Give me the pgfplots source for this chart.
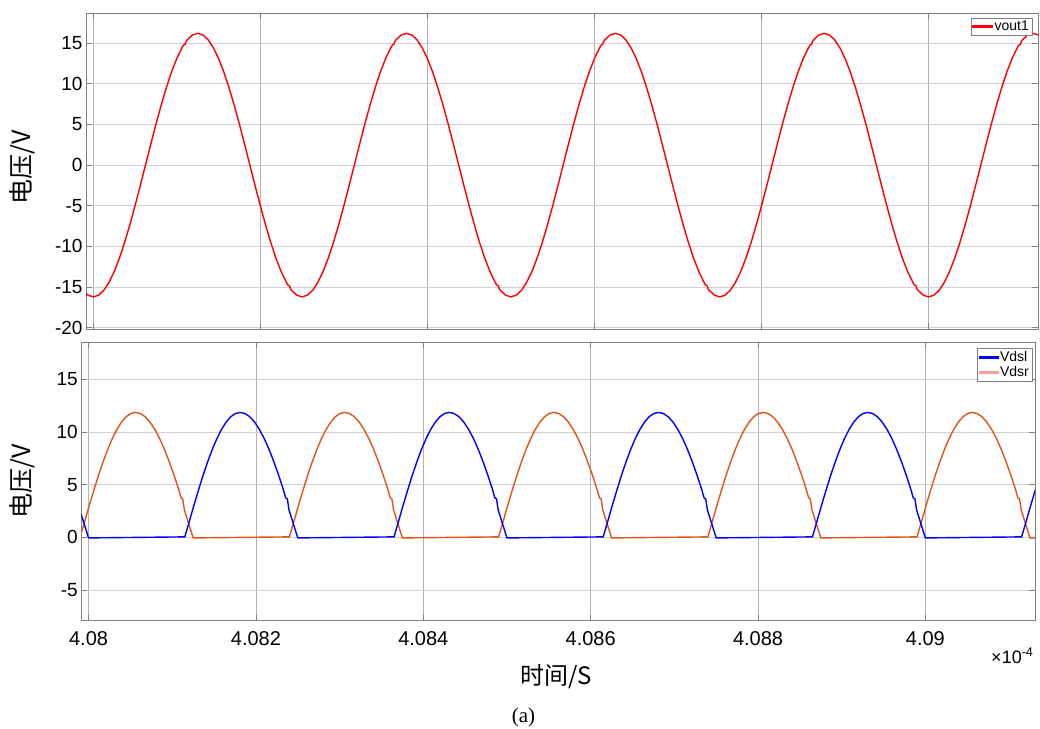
\documentclass[border=0pt]{standalone}
\usepackage{pgfplots}
\pgfplotsset{compat=1.18}
\usepackage{fontspec}
\setmainfont{Liberation Sans}
\newfontfamily\cjk{Noto Sans CJK SC}
\newfontfamily\tnr{Liberation Serif}
\definecolor{axgray}{HTML}{808080}
\definecolor{gridx}{HTML}{B4B4B4}
\definecolor{gridy}{HTML}{D2D2D2}
\definecolor{vred}{HTML}{FF0000}
\definecolor{vblue}{HTML}{0000FF}
\definecolor{vorange}{HTML}{E0541C}
\definecolor{vpink}{HTML}{FF9C9C}

% x is time offset from 4.08e-4 s in units of 1e-7 s (tick 2 -> 4.082)
\pgfplotsset{
  scope axis/.style={
    scale only axis,
    xmin=-0.087, xmax=11.31,
    xtick={0,2,4,6,8,10},
    grid=major,
    major x grid style={gridx, line width=0.6pt},
    major y grid style={gridy, line width=0.6pt},
    axis line style={axgray, line width=0.8pt},
    tick style={axgray, line width=0.8pt},
    major tick length=6pt,
    tick align=inside,
    xtick pos=both, ytick pos=both,
    yticklabel style={font=\fontsize{19}{21}\selectfont},
    xticklabel style={font=\fontsize{20}{22}\selectfont, yshift=-7pt},
    legend cell align=left,
    legend image code/.code={\fill[#1] (0pt,-0.85pt) rectangle (19pt,0.85pt);},
    legend style={font=\fontsize{14}{15}\selectfont, draw=axgray,
      inner sep=1pt, row sep=-1pt,
      at={(rel axis cs:1,1)}, anchor=north east},
  }
}

\begin{document}
\begin{tikzpicture}
\useasboundingbox (0pt,0pt) rectangle (1040pt,-728pt);

\begin{axis}[scope axis,
  at={(86pt,-329pt)}, anchor=south west,
  width=952pt, height=316pt,
  ymin=-20.15, ymax=18.7,
  ytick={-20,-15,-10,-5,0,5,10,15},
  yticklabels={-20,-15,-10,-5,0,5,10,15},
  xticklabels={},
  legend style={xshift=-6pt, yshift=-5pt},
]
\addplot[vred, line width=1.4pt] coordinates {
(-0.1875,-14.43)(-0.17,-14.75)(-0.15,-14.85)(-0.14,-15.2)(-0.125,-15.41)(-0.0625,-16.00)
(0,-16.20)(0.0625,-16.00)(0.125,-15.41)(0.1875,-14.43)(0.25,-13.11)(0.3125,-11.46)(0.375,-9.52)(0.4375,-7.35)(0.5,-5.01)(0.5625,-2.53)(0.625,0)(0.6875,2.53)(0.75,5.01)(0.8125,7.35)(0.875,9.52)(0.9375,11.46)(1,13.11)(1.0625,14.43)(1.08,14.75)(1.1,14.85)(1.11,15.2)(1.125,15.41)(1.1875,16.00)(1.25,16.20)(1.3125,16.00)(1.375,15.41)(1.4375,14.43)(1.5,13.11)(1.5625,11.46)(1.625,9.52)(1.6875,7.35)(1.75,5.01)(1.8125,2.53)(1.875,0)(1.9375,-2.53)(2,-5.01)(2.0625,-7.35)(2.125,-9.52)(2.1875,-11.46)(2.25,-13.11)(2.3125,-14.43)(2.33,-14.75)(2.35,-14.85)(2.36,-15.2)(2.375,-15.41)(2.4375,-16.00)
(2.5,-16.20)(2.5625,-16.00)(2.625,-15.41)(2.6875,-14.43)(2.75,-13.11)(2.8125,-11.46)(2.875,-9.52)(2.9375,-7.35)(3,-5.01)(3.0625,-2.53)(3.125,0)(3.1875,2.53)(3.25,5.01)(3.3125,7.35)(3.375,9.52)(3.4375,11.46)(3.5,13.11)(3.5625,14.43)(3.58,14.75)(3.6,14.85)(3.61,15.2)(3.625,15.41)(3.6875,16.00)(3.75,16.20)(3.8125,16.00)(3.875,15.41)(3.9375,14.43)(4,13.11)(4.0625,11.46)(4.125,9.52)(4.1875,7.35)(4.25,5.01)(4.3125,2.53)(4.375,0)(4.4375,-2.53)(4.5,-5.01)(4.5625,-7.35)(4.625,-9.52)(4.6875,-11.46)(4.75,-13.11)(4.8125,-14.43)(4.83,-14.75)(4.85,-14.85)(4.86,-15.2)(4.875,-15.41)(4.9375,-16.00)
(5,-16.20)(5.0625,-16.00)(5.125,-15.41)(5.1875,-14.43)(5.25,-13.11)(5.3125,-11.46)(5.375,-9.52)(5.4375,-7.35)(5.5,-5.01)(5.5625,-2.53)(5.625,0)(5.6875,2.53)(5.75,5.01)(5.8125,7.35)(5.875,9.52)(5.9375,11.46)(6,13.11)(6.0625,14.43)(6.08,14.75)(6.1,14.85)(6.11,15.2)(6.125,15.41)(6.1875,16.00)(6.25,16.20)(6.3125,16.00)(6.375,15.41)(6.4375,14.43)(6.5,13.11)(6.5625,11.46)(6.625,9.52)(6.6875,7.35)(6.75,5.01)(6.8125,2.53)(6.875,0)(6.9375,-2.53)(7,-5.01)(7.0625,-7.35)(7.125,-9.52)(7.1875,-11.46)(7.25,-13.11)(7.3125,-14.43)(7.33,-14.75)(7.35,-14.85)(7.36,-15.2)(7.375,-15.41)(7.4375,-16.00)
(7.5,-16.20)(7.5625,-16.00)(7.625,-15.41)(7.6875,-14.43)(7.75,-13.11)(7.8125,-11.46)(7.875,-9.52)(7.9375,-7.35)(8,-5.01)(8.0625,-2.53)(8.125,0)(8.1875,2.53)(8.25,5.01)(8.3125,7.35)(8.375,9.52)(8.4375,11.46)(8.5,13.11)(8.5625,14.43)(8.58,14.75)(8.6,14.85)(8.61,15.2)(8.625,15.41)(8.6875,16.00)(8.75,16.20)(8.8125,16.00)(8.875,15.41)(8.9375,14.43)(9,13.11)(9.0625,11.46)(9.125,9.52)(9.1875,7.35)(9.25,5.01)(9.3125,2.53)(9.375,0)(9.4375,-2.53)(9.5,-5.01)(9.5625,-7.35)(9.625,-9.52)(9.6875,-11.46)(9.75,-13.11)(9.8125,-14.43)(9.83,-14.75)(9.85,-14.85)(9.86,-15.2)(9.875,-15.41)(9.9375,-16.00)
(10,-16.20)(10.0625,-16.00)(10.125,-15.41)(10.1875,-14.43)(10.25,-13.11)(10.3125,-11.46)(10.375,-9.52)(10.4375,-7.35)(10.5,-5.01)(10.5625,-2.53)(10.625,0)(10.6875,2.53)(10.75,5.01)(10.8125,7.35)(10.875,9.52)(10.9375,11.46)(11,13.11)(11.0625,14.43)(11.08,14.75)(11.1,14.85)(11.11,15.2)(11.125,15.41)(11.1875,16.00)(11.25,16.20)(11.3125,16.00)(11.375,15.41)
};
\addlegendentry{vout1}
\end{axis}

\begin{axis}[scope axis,
  at={(81.3pt,-620.7pt)}, anchor=south west,
  width=953.7pt, height=278.4pt,
  ymin=-7.9, ymax=18.5,
  ytick={-5,0,5,10,15},
  yticklabels={-5,0,5,10,15},
  xticklabels={4.08,4.082,4.084,4.086,4.088,4.09},
  legend style={xshift=-3pt, yshift=-6pt},
]
\addlegendimage{vblue}
\addlegendentry{Vdsl}
\addlegendimage{vpink}
\addlegendentry{Vdsr}
% Vdsr
\addplot[vorange, line width=1.4pt, forget plot] coordinates {
(-0.10,0.05)(-0.045,1.55)(0.01,3.07)(0.065,4.53)(0.12,5.93)(0.175,7.21)(0.23,8.38)(0.285,9.40)(0.34,10.26)(0.395,10.95)(0.45,11.45)(0.505,11.75)(0.56,11.85)(0.6175,11.75)(0.675,11.45)(0.7325,10.95)(0.79,10.26)(0.8475,9.40)(0.905,8.38)(0.9625,7.21)(1.02,5.93)(1.0775,4.53)(1.105,3.75)(1.125,3.65)(1.145,2.6)(1.25,-0.05)
(2.40,0.05)(2.455,1.55)(2.51,3.07)(2.565,4.53)(2.62,5.93)(2.675,7.21)(2.73,8.38)(2.785,9.40)(2.84,10.26)(2.895,10.95)(2.95,11.45)(3.005,11.75)(3.06,11.85)(3.1175,11.75)(3.175,11.45)(3.2325,10.95)(3.29,10.26)(3.3475,9.40)(3.405,8.38)(3.4625,7.21)(3.52,5.93)(3.5775,4.53)(3.605,3.75)(3.625,3.65)(3.645,2.6)(3.75,-0.05)
(4.90,0.05)(4.955,1.55)(5.01,3.07)(5.065,4.53)(5.12,5.93)(5.175,7.21)(5.23,8.38)(5.285,9.40)(5.34,10.26)(5.395,10.95)(5.45,11.45)(5.505,11.75)(5.56,11.85)(5.6175,11.75)(5.675,11.45)(5.7325,10.95)(5.79,10.26)(5.8475,9.40)(5.905,8.38)(5.9625,7.21)(6.02,5.93)(6.0775,4.53)(6.105,3.75)(6.125,3.65)(6.145,2.6)(6.25,-0.05)
(7.40,0.05)(7.455,1.55)(7.51,3.07)(7.565,4.53)(7.62,5.93)(7.675,7.21)(7.73,8.38)(7.785,9.40)(7.84,10.26)(7.895,10.95)(7.95,11.45)(8.005,11.75)(8.06,11.85)(8.1175,11.75)(8.175,11.45)(8.2325,10.95)(8.29,10.26)(8.3475,9.40)(8.405,8.38)(8.4625,7.21)(8.52,5.93)(8.5775,4.53)(8.605,3.75)(8.625,3.65)(8.645,2.6)(8.75,-0.05)
(9.90,0.05)(9.955,1.55)(10.01,3.07)(10.065,4.53)(10.12,5.93)(10.175,7.21)(10.23,8.38)(10.285,9.40)(10.34,10.26)(10.395,10.95)(10.45,11.45)(10.505,11.75)(10.56,11.85)(10.6175,11.75)(10.675,11.45)(10.7325,10.95)(10.79,10.26)(10.8475,9.40)(10.905,8.38)(10.9625,7.21)(11.02,5.93)(11.0775,4.53)(11.105,3.75)(11.125,3.65)(11.145,2.6)(11.25,-0.05)(11.4,-0.03)
};
% Vdsl
\addplot[vblue, line width=1.4pt, forget plot] coordinates {
(-0.23,5.93)(-0.1725,4.53)(-0.145,3.75)(-0.125,3.65)(-0.105,2.6)(0,-0.05)
(1.15,0.05)(1.205,1.55)(1.26,3.07)(1.315,4.53)(1.37,5.93)(1.425,7.21)(1.48,8.38)(1.535,9.40)(1.59,10.26)(1.645,10.95)(1.70,11.45)(1.755,11.75)(1.81,11.85)(1.8675,11.75)(1.925,11.45)(1.9825,10.95)(2.04,10.26)(2.0975,9.40)(2.155,8.38)(2.2125,7.21)(2.27,5.93)(2.3275,4.53)(2.355,3.75)(2.375,3.65)(2.395,2.6)(2.50,-0.05)
(3.65,0.05)(3.705,1.55)(3.76,3.07)(3.815,4.53)(3.87,5.93)(3.925,7.21)(3.98,8.38)(4.035,9.40)(4.09,10.26)(4.145,10.95)(4.20,11.45)(4.255,11.75)(4.31,11.85)(4.3675,11.75)(4.425,11.45)(4.4825,10.95)(4.54,10.26)(4.5975,9.40)(4.655,8.38)(4.7125,7.21)(4.77,5.93)(4.8275,4.53)(4.855,3.75)(4.875,3.65)(4.895,2.6)(5.00,-0.05)
(6.15,0.05)(6.205,1.55)(6.26,3.07)(6.315,4.53)(6.37,5.93)(6.425,7.21)(6.48,8.38)(6.535,9.40)(6.59,10.26)(6.645,10.95)(6.70,11.45)(6.755,11.75)(6.81,11.85)(6.8675,11.75)(6.925,11.45)(6.9825,10.95)(7.04,10.26)(7.0975,9.40)(7.155,8.38)(7.2125,7.21)(7.27,5.93)(7.3275,4.53)(7.355,3.75)(7.375,3.65)(7.395,2.6)(7.50,-0.05)
(8.65,0.05)(8.705,1.55)(8.76,3.07)(8.815,4.53)(8.87,5.93)(8.925,7.21)(8.98,8.38)(9.035,9.40)(9.09,10.26)(9.145,10.95)(9.20,11.45)(9.255,11.75)(9.31,11.85)(9.3675,11.75)(9.425,11.45)(9.4825,10.95)(9.54,10.26)(9.5975,9.40)(9.655,8.38)(9.7125,7.21)(9.77,5.93)(9.8275,4.53)(9.855,3.75)(9.875,3.65)(9.895,2.6)(10.00,-0.05)
(11.15,0.05)(11.205,1.55)(11.26,3.07)(11.315,4.53)(11.37,5.93)
};
\end{axis}

\node[rotate=90, font=\cjk\fontsize{25}{27}\selectfont] at (22pt,-167.5pt) {电压/V};
\node[rotate=90, font=\cjk\fontsize{25}{27}\selectfont] at (22.5pt,-481pt) {电压/V};
\node[font=\cjk\fontsize{24}{26}\selectfont] at (556pt,-677pt) {时间/S};
\node[anchor=base east, font=\fontsize{18}{20}\selectfont] at (1037pt,-663pt) {×10\textsuperscript{-4}};
\node[font=\tnr\fontsize{21}{23}\selectfont] at (523.5pt,-717pt) {(a)};
\end{tikzpicture}
\end{document}
